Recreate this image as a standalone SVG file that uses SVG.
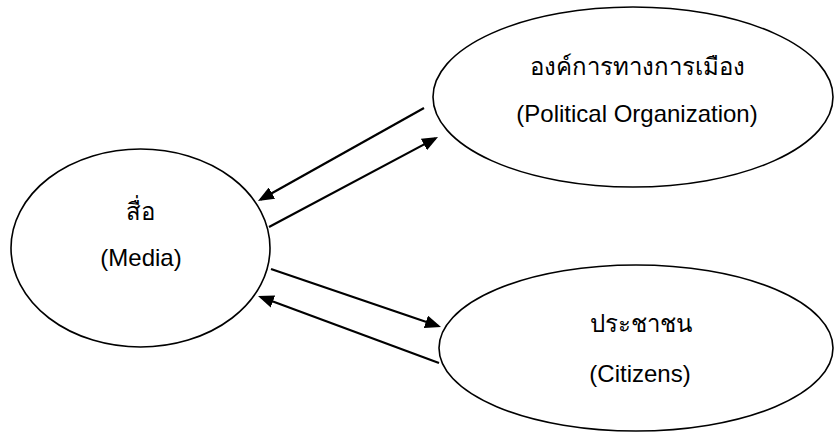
<svg xmlns="http://www.w3.org/2000/svg" width="834" height="432" viewBox="0 0 834 432">
<style>
.node ellipse{fill:#fff;stroke:#000;stroke-width:1.6}
text{font-family:"Liberation Sans",Arial,"Noto Sans",sans-serif;font-size:24px;fill:#000;text-anchor:middle}
.conn line{stroke:#000;stroke-width:2.2;marker-end:url(#ah)}
</style>
<defs>
<marker id="ah" markerUnits="userSpaceOnUse" markerWidth="16" markerHeight="13" viewBox="0 0 16 13" refX="13" refY="6.5" orient="auto">
<path d="M0,0 L16,6.5 L0,13 Z" fill="#000"/>
</marker>
</defs>
<rect width="834" height="432" fill="#fff"/>
<g id="media" class="node">
<ellipse cx="140.5" cy="248" rx="129.5" ry="99"/>
<text x="140" y="220">สื่อ</text>
<text x="141" y="266">(Media)</text>
</g>
<g id="political" class="node">
<ellipse cx="633" cy="97" rx="200" ry="90"/>
<text x="637" y="75">องค์การทางการเมือง</text>
<text x="637" y="122">(Political Organization)</text>
</g>
<g id="citizens" class="node">
<ellipse cx="636" cy="348" rx="197" ry="83"/>
<text x="641" y="332">ประชาชน</text>
<text x="640" y="382">(Citizens)</text>
</g>
<g id="connectors" class="conn">
<line x1="424" y1="108" x2="260.6" y2="199.5"/>
<line x1="269" y1="227" x2="435.4" y2="138.4"/>
<line x1="271" y1="269" x2="438.2" y2="326"/>
<line x1="439" y1="363" x2="260.8" y2="297"/>
</g>
</svg>
